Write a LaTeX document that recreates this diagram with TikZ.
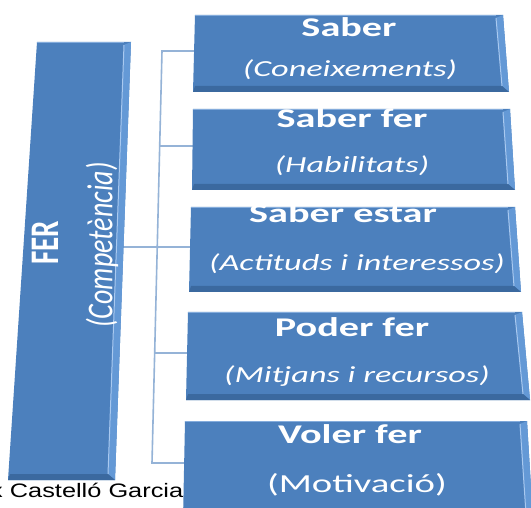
\documentclass[tikz,border=0pt]{standalone}
\usepackage{fontspec}
\setmainfont{Carlito}
\newfontfamily\arialf{Liberation Sans}
\usetikzlibrary{calc}
\definecolor{faceblue}{HTML}{4C80BD}
\definecolor{sideblue}{HTML}{6499D6}
\definecolor{bottomblue}{HTML}{3B699F}
\definecolor{hlblue}{HTML}{A9C9F0}
\definecolor{connblue}{HTML}{95B3D7}
\tikzset{
  boxface/.style={fill=faceblue},
  boxside/.style={fill=sideblue},
  boxbottom/.style={fill=bottomblue},
  boxhl/.style={draw=hlblue, line width=1pt},
  conn/.style={draw=connblue, line width=1.6pt},
  txt/.style={text=white, inner sep=0pt, anchor=base},
  credit/.style={text=black, inner sep=0pt, anchor=base west},
}
\newcommand\titlef{\fontsize{27}{31}\selectfont\bfseries}
\newcommand\subf{\fontsize{23}{27}\selectfont\itshape}
\newcommand\subup{\fontsize{26}{30}\selectfont}
\newcommand\hs[1]{\scalebox{1.49}[1]{#1}}
% #1 name, #2 TL, #3 TR, #4 BR, #5 BL
\newcommand\bevelbox[5]{%
  \coordinate (#1-tl) at (#2);
  \coordinate (#1-tr) at (#3);
  \coordinate (#1-br) at (#4);
  \coordinate (#1-bl) at (#5);
  \fill[boxface] (#1-tl) -- (#1-tr) -- (#1-br) -- (#1-bl) -- cycle;
  \fill[boxside] (#1-tr) -- (#1-br) -- ($(#1-br)+(-7,-6)$) -- ($(#1-tr)+(-7,3)$) -- cycle;
  \fill[boxbottom] (#1-bl) -- (#1-br) -- ($(#1-br)+(-7,-6)$) -- ($(#1-bl)+(2,-6)$) -- cycle;
  \draw[boxhl] ($(#1-tr)+(-7,3)$) -- ($(#1-br)+(-7,-6)$);
  \draw[hlblue!60!faceblue, line width=0.8pt] (#1-tl) -- ($(#1-tr)+(-7,0)$);
}
\begin{document}
\begin{tikzpicture}[x=1pt, y=-1pt]
\useasboundingbox (0,0) rectangle (531,508);
\clip (0,0) rectangle (531,508);
\fill[white] (0,0) rectangle (531,508);

% connector coordinates
\coordinate (busTop) at (162,51);
\coordinate (busBot) at (152,463);
\coordinate (bus2) at ($(busTop)!0.2306!(busBot)$);
\coordinate (bus3) at ($(busTop)!0.4757!(busBot)$);
\coordinate (bus4) at ($(busTop)!0.7330!(busBot)$);
\coordinate (c1) at (195,51);
\coordinate (c2) at (193,146);
\coordinate (c3) at (191,247);
\coordinate (c4) at (188,353);
\coordinate (c5) at (185,463);
\coordinate (cfer) at (123,247);

\draw[conn] (c1) -- (busTop) -- (busBot) -- (c5);
\draw[conn] (c2) -- (bus2);
\draw[conn] (cfer) -- (c3);
\draw[conn] (c4) -- (bus4);

% left box
\bevelbox{fer}{37,42}{131,42}{115,480}{8,480}
\node[txt, anchor=center, rotate=90] (fertitle) at (45,243)
  {\scalebox{1}[1.4]{\fontsize{29}{33}\selectfont\bfseries FER}};
\node[txt, anchor=center, rotate=90] (fersub) at (102,245)
  {\scalebox{1}[1.3]{\fontsize{28}{32}\selectfont\itshape (Competència)}};

% credit text
\node[credit] (credit) at (-10,497)
  {\scalebox{1.3}[1]{\arialf\fontsize{19.5}{22}\selectfont x Castelló Garcia}};

% right boxes
\bevelbox{b1}{195,15}{503,15}{509,92}{193,92}
\bevelbox{b2}{193,109}{510,109}{515,190}{192,190}
\bevelbox{b3}{191,207}{515,207}{521,292}{189,292}
\bevelbox{b4}{188,312}{522,312}{530,400}{186,400}
\bevelbox{b5}{185,421}{527,421}{533,520}{183,520}

\node[txt] (t1) at (349,37) {\hs{\titlef Saber}};
\node[txt] (s1) at (350,77) {\hs{\subf (Coneixements)}};
\node[txt] (t2) at (352,128) {\hs{\titlef Saber fer}};
\node[txt] (s2) at (352,173) {\hs{\subf (Habilitats)}};
\node[txt] (t3) at (343,223) {\hs{\titlef Saber estar}};
\node[txt] (s3) at (357,271) {\hs{\subf (Actituds i interessos)}};
\node[txt] (t4) at (352,337) {\hs{\titlef Poder fer}};
\node[txt] (s4) at (357,382) {\hs{\subf (Mitjans i recursos)}};
\node[txt] (t5) at (350,443) {\hs{\titlef Voler fer}};
\node[txt] (s5) at (357,492) {\hs{\subup (Motivació)}};
\end{tikzpicture}
\end{document}
